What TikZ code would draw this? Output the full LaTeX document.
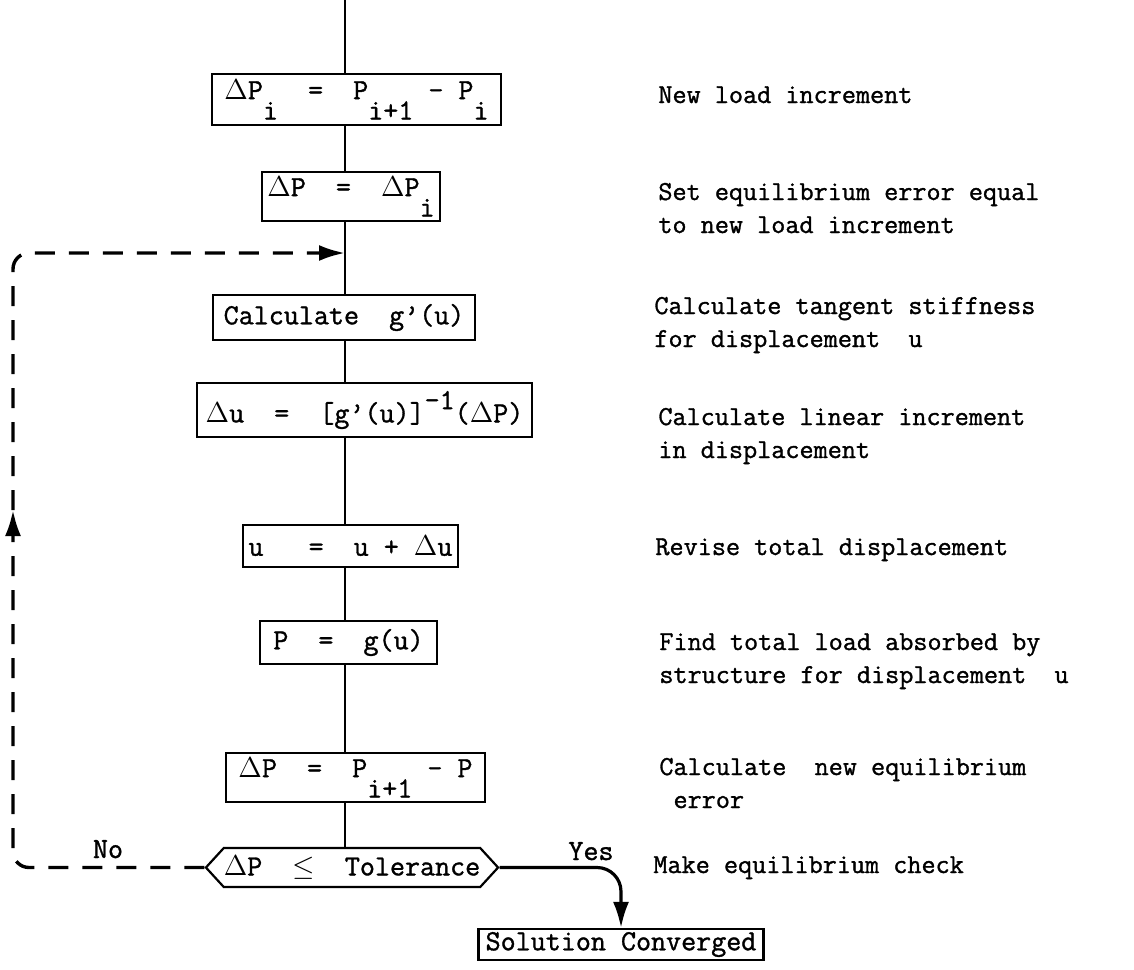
\documentclass[tikz,border=0pt]{standalone}
\usepackage{fontspec}
\setmonofont{Latin Modern Mono}[FakeBold=1.2]
\usetikzlibrary{arrows.meta,shapes.symbols,positioning}
\newcommand{\boxfont}{\fontsize{14.6}{17}\selectfont\ttfamily}
\newcommand{\notefont}{\fontsize{13.7}{16.5}\selectfont\ttfamily}
\newcommand{\lo}[1]{\raisebox{-0.7em}{#1}}
\newcommand{\hi}[1]{\raisebox{0.45em}{#1}}
\newcommand{\dl}{$\Delta$}
\newcommand{\pr}{\textquoteright}
\tikzset{
  stepbox/.style={draw, line width=1.1pt, inner sep=0pt, font=\boxfont},
  note/.style={anchor=base west, inner sep=0pt, align=left, font=\notefont},
  flow/.style={line width=1.1pt},
  loopline/.style={line width=1.7pt, dash pattern=on 10pt off 7pt, rounded corners=8pt},
  headtip/.style={-{Latex[length=13pt,width=8pt]}}
}
\begin{document}
\begin{tikzpicture}[x=0.5pt,y=-0.5pt]
        \useasboundingbox (0,0) rectangle (1134,969);
        \coordinate (spine) at (345,0);
        \coordinate (reentry) at (345,253);
        \coordinate (loopcol) at (13,253);
        \coordinate (loopmid) at (13,510);
        % Steps of the iteration
        \node[stepbox, minimum width=144.5pt, minimum height=25.5pt] (inc) at (356.5,99.5)
            {\dl P\lo{i}\ \ =\ \ P\lo{i+1}\ -\ P\lo{i}};
        \node[stepbox, minimum width=89pt, minimum height=24.5pt] (set) at (351,196.5)
            {\dl P\ \ =\ \ \dl P\lo{i}};
        \node[stepbox, minimum width=131pt, minimum height=22.5pt] (tan) at (344,317.5)
            {Calculate\ \ g\pr(u)};
        \node[stepbox, minimum width=167.5pt, minimum height=27pt] (lin) at (364.5,410)
            {\dl u\ \ =\ \ [g\pr(u)]\hi{-1}(\dl P)};
        \node[stepbox, minimum width=107.5pt, minimum height=21pt] (upd) at (350.5,546)
            {u\ \ \ =\ \ u\ +\ \dl u};
        \node[stepbox, minimum width=88.5pt, minimum height=21.5pt] (load) at (348.5,642.5)
            {P\ \ =\ \ g(u)};
        \node[stepbox, minimum width=129.5pt, minimum height=24.5pt] (err) at (355.5,777.5)
            {\dl P\ \ =\ \ P\lo{i+1}\ -\ P};
        \node[stepbox, shape=signal, signal to=west and east, signal pointer angle=95,
              minimum width=143pt, minimum height=19.5pt] (chk) at (352,867.5)
            {\dl P\ \ $\leq$\ \ Tolerance};
        \node[stepbox, minimum width=142.5pt, minimum height=15.5pt] (conv) at (621,944.5)
            {Solution Converged};
        % Main flow
        \draw[flow] (spine) -- (inc.north -| spine);
        \foreach \a/\b in {inc/set, set/tan, tan/lin, lin/upd, upd/load, load/err, err/chk}
            \draw[flow] (\a.south -| spine) -- (\b.north -| spine);
        % Return loop
        \draw[loopline, headtip] (chk.west) -- (chk.west -| loopcol) -- (loopmid);
        \draw[loopline, headtip] (loopmid) -- (loopcol) -- (reentry);
        \node[font=\boxfont, anchor=base] (no) at (108,858) {No};
        % Converged branch
        \draw[flow, line width=1.6pt, headtip, rounded corners=12pt]
            (chk.east) -- (chk.east -| conv.north) -- (conv.north);
        \node[font=\boxfont, anchor=base] (yes) at (591,860) {Yes};
        % Comments on each step
        \node[note] (n1) at (658,103) {New load increment};
        \node[note] (n2) at (658,233) {Set equilibrium error equal\\to new load increment};
        \node[note] (n3) at (654,347) {Calculate tangent stiffness\\for displacement\ \ u};
        \node[note] (n4) at (658,458) {Calculate linear increment\\in displacement};
        \node[note] (n5) at (655,555) {Revise total displacement};
        \node[note] (n6) at (659,683) {Find total load absorbed by\\structure for displacement\ \ u};
        \node[note] (n7) at (659,808) {Calculate\ \ new equilibrium\\\ error};
        \node[note] (n8) at (653,873) {Make equilibrium check};
\end{tikzpicture}
\end{document}
